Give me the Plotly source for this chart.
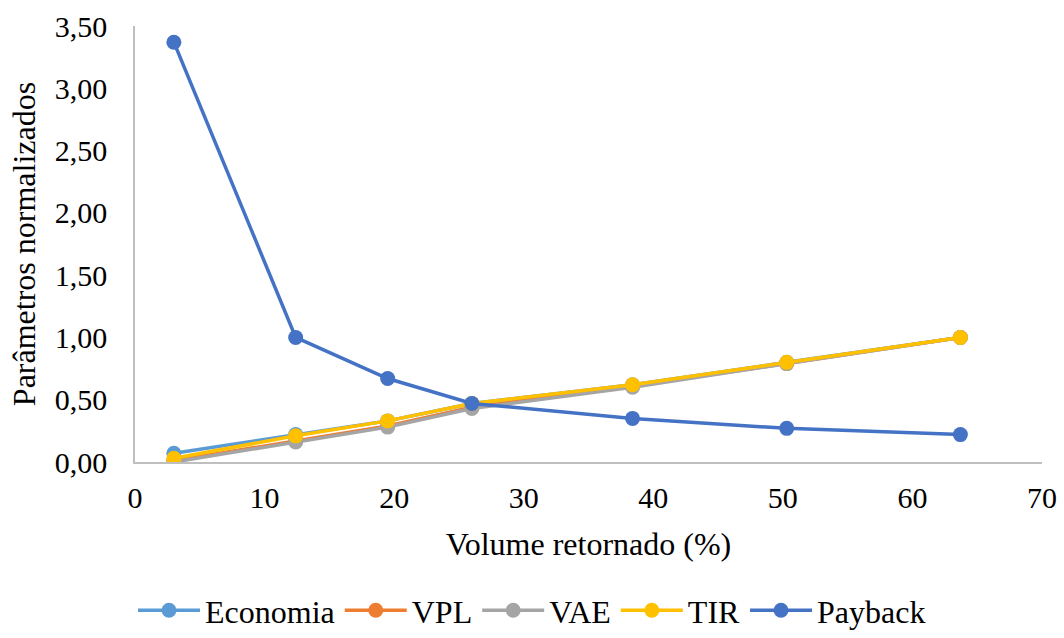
import plotly.graph_objects as go

volume = [3.0, 12.4, 19.5, 26.0, 38.4, 50.3, 63.7]
economia = [0.07, 0.22, 0.33, 0.47, 0.62, 0.80, 1.00]
vpl = [0.01, 0.17, 0.29, 0.44, 0.61, 0.79, 1.00]
vae = [0.00, 0.16, 0.28, 0.43, 0.60, 0.79, 1.00]
tir = [0.03, 0.21, 0.33, 0.47, 0.62, 0.80, 1.00]
payback = [3.37, 1.00, 0.67, 0.47, 0.35, 0.27, 0.22]

series = [
    ("Economia", economia, "#5B9BD5"),
    ("VPL", vpl, "#ED7D31"),
    ("VAE", vae, "#A5A5A5"),
    ("TIR", tir, "#FFC000"),
    ("Payback", payback, "#4472C4"),
]

fig = go.Figure()
for name, vals, col in series:
    fig.add_trace(go.Scatter(
        x=volume, y=vals, name=name, mode="lines+markers",
        line=dict(color=col, width=3.5),
        marker=dict(color=col, size=15),
    ))

fam = "Liberation Serif"
fig.update_layout(
    width=1064, height=638,
    margin=dict(l=135, r=22, t=26, b=176),
    paper_bgcolor="white", plot_bgcolor="white",
    separators=",.",
    font=dict(family=fam, size=30, color="black"),
    showlegend=True,
    legend=dict(orientation="h", x=0.5, xanchor="center", xref="container",
                y=0.0, yanchor="bottom", yref="container",
                font=dict(family=fam, size=32, color="black"), itemwidth=62,
                tracegroupgap=0),
    xaxis=dict(range=[0, 70], dtick=10, showgrid=False, zeroline=False,
               showline=True, linecolor="#BFBFBF", linewidth=1.5, automargin=False,
               ticks="", tickfont=dict(family=fam, size=30, color="black"),
               ticklabelstandoff=8,
               title=dict(text="Volume retornado (%)",
                          font=dict(family=fam, size=32, color="black"), standoff=20)),
    yaxis=dict(range=[0, 3.5], dtick=0.5, tickformat=".2f", showgrid=False, zeroline=False,
               showline=True, linecolor="#BFBFBF", linewidth=1.5, automargin=False,
               ticks="", tickfont=dict(family=fam, size=30, color="black"),
               ticklabelstandoff=20,
               title=dict(text="Parâmetros normalizados",
                          font=dict(family=fam, size=32, color="black"), standoff=10)),
)

fig.write_html("out.html")
